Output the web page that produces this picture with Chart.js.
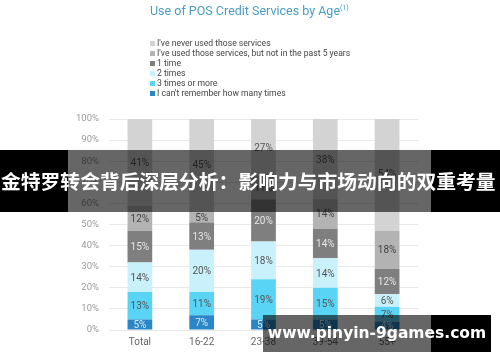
<!DOCTYPE html>
<html>
<head>
<meta charset="utf-8">
<script src="https://cdn.jsdelivr.net/npm/chart.js@4"></script>
<style>
  html, body { margin: 0; padding: 0; background: #fff; }
  #wrap { position: relative; width: 500px; height: 362px; overflow: hidden; font-family: Roboto, "Noto Sans", sans-serif; }
  #chart { position: absolute; left: 0; top: 0; }
  #title { position: absolute; left: 150px; top: 3px; font-size: 12.5px; color: #4a9cc0; white-space: nowrap; }
  #title sup { font-size: 7px; }
  #legend { position: absolute; left: 150px; top: 38px; font-size: 8.6px; color: #444; line-height: 10px; }
  #legend div { white-space: nowrap; }
  #legend span { display: inline-block; width: 5px; height: 5px; margin-right: 2px; vertical-align: 0px; }
  #banner { position: absolute; left: 0; top: 150px; width: 500px; height: 62px;
    background: linear-gradient(to right, #000 0, #000 68px, rgba(0,0,0,0.6) 68px, rgba(0,0,0,0.6) 431px, #000 431px);
    color: #fff; font-family: "Noto Sans CJK SC", sans-serif; font-weight: bold; font-size: 19.8px;
    line-height: 62px; white-space: nowrap; text-indent: 1px; }
  #mark { position: absolute; left: 263px; top: 315px; width: 228px; height: 37px;
    background: linear-gradient(to right, rgba(0,0,0,0.6) 0, rgba(0,0,0,0.6) 168px, #000 168px);
    color: #fff; font-family: "DejaVu Sans", sans-serif; font-weight: bold; font-size: 15.5px;
    line-height: 37px; text-align: center; white-space: nowrap; }
</style>
</head>
<body>
<div id="wrap">
  <canvas id="chart" width="500" height="362"></canvas>
  <div id="title">Use of POS Credit Services by Age<sup>(1)</sup></div>
  <div id="legend"></div>
  <div id="banner">金特罗转会背后深层分析：影响力与市场动向的双重考量</div>
  <div id="mark">www.pinyin-9games.com</div>
</div>
<script>
const ages = ["Total", "16-22", "23-38", "39-54", "55+"];

const seriesNames = [
  "I can't remember how many times",
  "3 times or more",
  "2 times",
  "1 time",
  "I've used those services, but not in the past 5 years",
  "I've never used those services"
];

const cantRemember = [5, 7, 5, 5, 4];
const threeOrMore = [13, 11, 19, 15, 7];
const twoTimes = [14, 20, 18, 14, 6];
const oneTime = [15, 13, 20, 14, 12];
const notPast5 = [12, 5, 11, 14, 18];
const neverUsed = [41, 45, 27, 38, 54];

const yTicks = [0, 10, 20, 30, 40, 50, 60, 70, 80, 90, 100];

const colors = ["#2a86c6", "#5ad4f5", "#c9f1fb", "#7f7f7f", "#b3b3b3", "#d3d3d3"];
const labelColors = ["#d6ecf8", "#555", "#555", "#e6e6e6", "#444", "#555"];
const seriesData = [cantRemember, threeOrMore, twoTimes, oneTime, notPast5, neverUsed];

// legend, top item is the last series
const legend = document.getElementById("legend");
for (let i = seriesNames.length - 1; i >= 0; i--) {
  const row = document.createElement("div");
  row.innerHTML = `<span style="background:${colors[i]}"></span>${seriesNames[i]}`;
  legend.appendChild(row);
}

// draws the % labels in the middle of each bar piece
const barLabels = {
  id: "barLabels",
  afterDatasetsDraw(chart) {
    const ctx = chart.ctx;
    ctx.save();
    ctx.font = "10px Roboto";
    ctx.textAlign = "center";
    ctx.textBaseline = "middle";
    chart.data.datasets.forEach((ds, i) => {
      const meta = chart.getDatasetMeta(i);
      meta.data.forEach((bar, j) => {
        const mid = (bar.y + bar.base) / 2;
        ctx.fillStyle = labelColors[i];
        ctx.fillText(ds.data[j] + "%", bar.x, mid + 1);
      });
    });
    ctx.restore();
  }
};

new Chart(document.getElementById("chart"), {
  type: "bar",
  data: {
    labels: ages,
    datasets: seriesData.map((d, i) => ({
      label: seriesNames[i],
      data: d,
      backgroundColor: colors[i],
      borderWidth: 0,
      categoryPercentage: 1,
      barPercentage: 0.4
    }))
  },
  options: {
    responsive: false,
    animation: false,
    layout: { padding: { left: 66, right: 82, top: 119, bottom: 16 } },
    plugins: { legend: { display: false }, title: { display: false }, tooltip: { enabled: false } },
    scales: {
      x: {
        stacked: true,
        grid: { display: false },
        border: { display: false },
        ticks: { color: "#666", font: { family: "Roboto", size: 10 }, padding: -2 }
      },
      y: {
        stacked: true,
        min: 0,
        max: 100,
        afterBuildTicks: axis => { axis.ticks = yTicks.map(v => ({ value: v })); },
        grid: { color: "#e9e9e9", drawTicks: false },
        border: { display: false },
        ticks: { color: "#9a9a9a", font: { family: "Roboto", size: 9.5 }, padding: 10, callback: v => v + "%" }
      }
    }
  },
  plugins: [barLabels]
});
</script>
</body>
</html>
